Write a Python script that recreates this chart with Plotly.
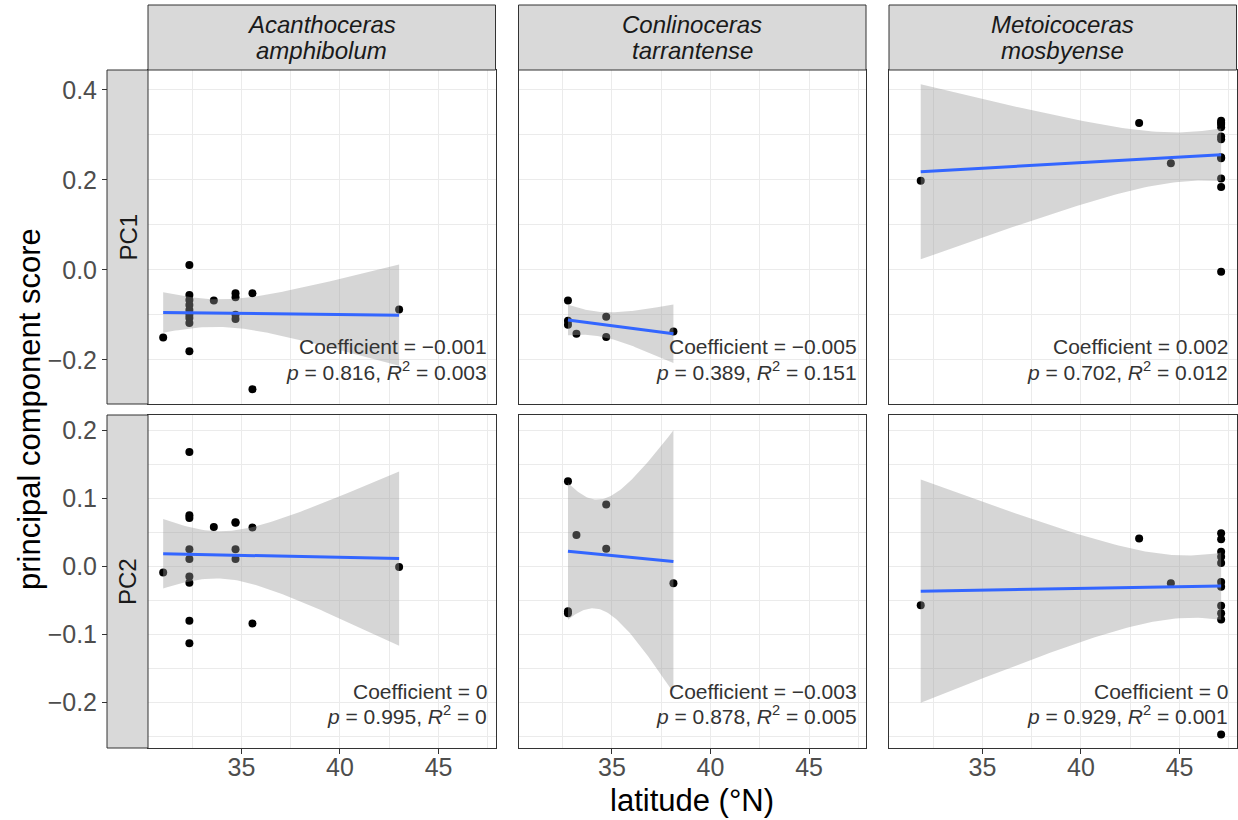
import numpy as np
import plotly.graph_objects as go

W, H = 1238, 820
FONT = "Liberation Sans, Arial, Helvetica, sans-serif"

# ---------------- data ----------------
species_line1 = ["Acanthoceras", "Conlinoceras", "Metoicoceras"]
species_line2 = ["amphibolum", "tarrantense", "mosbyense"]
components = ["PC1", "PC2"]

lat_A = [31.03, 32.36, 32.36, 32.36, 32.36, 32.36, 32.36, 32.36, 32.36, 32.36,
         33.6, 34.7, 34.7, 34.7, 34.7, 35.56, 35.56, 43.0]
pc1_A = [-0.150, 0.011, -0.056, -0.067, -0.078, -0.089, -0.100, -0.107, -0.118, -0.181,
         -0.068, -0.052, -0.061, -0.100, -0.109, -0.052, -0.265, -0.088]
pc2_A = [-0.009, 0.168, 0.075, 0.071, 0.025, 0.011, -0.015, -0.024, -0.080, -0.113,
         0.058, 0.065, 0.025, 0.011, 0.064, 0.057, -0.084, -0.001]

lat_C = [32.77, 32.77, 32.77, 33.2, 34.71, 34.71, 38.12]
pc1_C = [-0.068, -0.113, -0.122, -0.142, -0.104, -0.149, -0.137]
pc2_C = [0.125, -0.066, -0.069, 0.046, 0.091, 0.026, -0.025]

lat_M = [31.87, 42.95, 44.56, 47.11, 47.11, 47.11, 47.11, 47.11, 47.11, 47.11,
         47.11, 47.11, 47.11, 47.11]
pc1_M = [0.198, 0.326, 0.237, 0.331, 0.327, 0.324, 0.317, 0.296, 0.290, 0.250,
         0.248, 0.203, 0.184, -0.004]
pc2_M = [-0.057, 0.041, -0.025, 0.0485, 0.040, 0.0215, 0.014, 0.005, -0.023, -0.030,
         -0.058, -0.069, -0.078, -0.247]

lats = [lat_A, lat_C, lat_M]
scores = [[pc1_A, pc1_C, pc1_M], [pc2_A, pc2_C, pc2_M]]

coef_text = [["−0.001", "−0.005", "0.002"], ["0", "−0.003", "0"]]
p_text = [["0.816", "0.389", "0.702"], ["0.995", "0.878", "0.929"]]
r2_text = [["0.003", "0.151", "0.012"], ["0", "0.005", "0.001"]]

x_ticks = [35, 40, 45]
x_ticktext = ["35", "40", "45"]
x_minor = [32.5, 37.5, 42.5, 47.5]
y_ticks = [[-0.2, 0.0, 0.2, 0.4], [-0.2, -0.1, 0.0, 0.1, 0.2]]
y_ticktext = [["−0.2", "0.0", "0.2", "0.4"], ["−0.2", "−0.1", "0.0", "0.1", "0.2"]]
y_minor = [[-0.3, -0.1, 0.1, 0.3], [-0.25, -0.15, -0.05, 0.05, 0.15]]
x_range = [30.26, 47.89]
y_ranges = [[-0.298, 0.444], [-0.267, 0.2225]]

# Student t 0.975 quantiles by df
T975 = {1: 12.706, 2: 4.303, 3: 3.182, 4: 2.776, 5: 2.571, 6: 2.447, 7: 2.365, 8: 2.306,
        9: 2.262, 10: 2.228, 11: 2.201, 12: 2.179, 13: 2.160, 14: 2.145, 15: 2.131,
        16: 2.120, 17: 2.110, 18: 2.101, 19: 2.093, 20: 2.086}

# ---------------- layout geometry (pixels) ----------------
col_left = [148, 518.5, 889]
col_right = [495.5, 866, 1236.5]
row_top = [70, 415]
row_bottom = [404, 748]
strip_top = 5
rstrip_left = 107

TICK_SIZE = 25
STRIP_SIZE = 24
TITLE_SIZE = 31
STAT_SIZE = 21


def px(x):
    return x / W


def py(y):
    return 1 - y / H


def lm_band(x, y, n_grid=80):
    x = np.asarray(x, float)
    y = np.asarray(y, float)
    n = len(x)
    xb, yb = x.mean(), y.mean()
    sxx = ((x - xb) ** 2).sum()
    b1 = ((x - xb) * (y - yb)).sum() / sxx
    b0 = yb - b1 * xb
    resid = y - (b0 + b1 * x)
    s = np.sqrt((resid ** 2).sum() / (n - 2))
    xs = np.linspace(x.min(), x.max(), n_grid)
    fit = b0 + b1 * xs
    se = s * np.sqrt(1 / n + (xs - xb) ** 2 / sxx)
    t = T975[n - 2]
    return xs, fit, fit - t * se, fit + t * se


fig = go.Figure()
layout_axes = {}
annotations = []
shapes = []

for r in range(2):
    for c in range(3):
        k = r * 3 + c + 1
        xa = "x" if k == 1 else f"x{k}"
        ya = "y" if k == 1 else f"y{k}"
        x = lats[c]
        y = scores[r][c]
        fig.add_trace(go.Scatter(x=x, y=y, xaxis=xa, yaxis=ya, mode="markers",
                                 marker=dict(color="black", size=8),
                                 showlegend=False, hoverinfo="skip"))
        xs, fit, lo, hi = lm_band(x, y)
        fig.add_trace(go.Scatter(x=np.concatenate([xs, xs[::-1]]),
                                 y=np.concatenate([hi, lo[::-1]]),
                                 xaxis=xa, yaxis=ya, mode="lines", fill="toself",
                                 fillcolor="rgba(153,153,153,0.4)",
                                 line=dict(width=0), showlegend=False, hoverinfo="skip"))
        fig.add_trace(go.Scatter(x=xs, y=fit, xaxis=xa, yaxis=ya, mode="lines",
                                 line=dict(color="#3366FF", width=3),
                                 showlegend=False, hoverinfo="skip"))

        layout_axes[f"xaxis{'' if k == 1 else k}"] = dict(
            domain=[px(col_left[c]), px(col_right[c])], anchor=ya, range=x_range,
            tickmode="array", tickvals=x_ticks, ticktext=x_ticktext,
            showticklabels=(r == 1), ticks="outside" if r == 1 else "",
            ticklen=5, tickwidth=1, tickcolor="#333333", ticklabelstandoff=-8,
            tickfont=dict(family=FONT, size=TICK_SIZE, color="#4D4D4D"),
            showgrid=True, gridcolor="#EBEBEB", gridwidth=1.2,
            minor=dict(tickvals=x_minor, showgrid=True, gridcolor="#EBEBEB", gridwidth=0.7),
            zeroline=False, showline=True, mirror=True, linecolor="#333333", linewidth=1)
        layout_axes[f"yaxis{'' if k == 1 else k}"] = dict(
            domain=[py(row_bottom[r]), py(row_top[r])], anchor=xa, range=y_ranges[r],
            tickmode="array", tickvals=y_ticks[r], showticklabels=False, ticks="",
            showgrid=True, gridcolor="#EBEBEB", gridwidth=1.2,
            minor=dict(tickvals=y_minor[r], showgrid=True, gridcolor="#EBEBEB", gridwidth=0.7),
            zeroline=False, showline=True, mirror=True, linecolor="#333333", linewidth=1)

        xr = px(col_right[c] - 7)
        annotations.append(dict(text=f"Coefficient = {coef_text[r][c]}", xref="paper", yref="paper",
                                x=xr, y=py(row_bottom[r] - 57), xanchor="right", yanchor="middle",
                                showarrow=False, font=dict(family=FONT, size=STAT_SIZE, color="#333333")))
        annotations.append(dict(text=f"<i>p</i> = {p_text[r][c]}, <i>R</i><sup>2</sup> = {r2_text[r][c]}",
                                xref="paper", yref="paper",
                                x=xr, y=py(row_bottom[r] - 33), xanchor="right", yanchor="middle",
                                showarrow=False, font=dict(family=FONT, size=STAT_SIZE, color="#333333")))

# free y axes carrying the tick labels outside the row strips
for r in range(2):
    k = 7 + r
    base = "y" if r == 0 else "y4"
    bx = "x" if r == 0 else "x4"
    fig.add_trace(go.Scatter(x=lats[0], y=scores[r][0], xaxis=bx, yaxis=f"y{k}", mode="markers",
                             marker=dict(opacity=0), showlegend=False, hoverinfo="skip"))
    layout_axes[f"yaxis{k}"] = dict(
        overlaying=base, anchor="free", position=px(rstrip_left), side="left",
        range=y_ranges[r], tickmode="array", tickvals=y_ticks[r], ticktext=y_ticktext[r],
        ticks="outside", ticklen=5, tickwidth=1, tickcolor="#333333",
        tickfont=dict(family=FONT, size=TICK_SIZE, color="#4D4D4D"),
        showgrid=False, zeroline=False, showline=False)

# strips
for c in range(3):
    shapes.append(dict(type="rect", xref="paper", yref="paper",
                       x0=px(col_left[c]), x1=px(col_right[c]), y0=py(row_top[0]), y1=py(strip_top),
                       fillcolor="#D9D9D9", line=dict(color="#333333", width=1), layer="above"))
    cx = px((col_left[c] + col_right[c]) / 2)
    annotations.append(dict(text=f"<i>{species_line1[c]}</i>", xref="paper", yref="paper", x=cx,
                            y=py(24), xanchor="center", yanchor="middle", showarrow=False,
                            font=dict(family=FONT, size=STRIP_SIZE, color="#1A1A1A")))
    annotations.append(dict(text=f"<i>{species_line2[c]}</i>", xref="paper", yref="paper", x=cx,
                            y=py(50), xanchor="center", yanchor="middle", showarrow=False,
                            font=dict(family=FONT, size=STRIP_SIZE, color="#1A1A1A")))
for r in range(2):
    shapes.append(dict(type="rect", xref="paper", yref="paper",
                       x0=px(rstrip_left), x1=px(col_left[0]), y0=py(row_bottom[r]), y1=py(row_top[r]),
                       fillcolor="#D9D9D9", line=dict(color="#333333", width=1), layer="above"))
    annotations.append(dict(text=components[r], xref="paper", yref="paper",
                            x=px((rstrip_left + col_left[0]) / 2), y=py((row_top[r] + row_bottom[r]) / 2),
                            xanchor="center", yanchor="middle", textangle=-90, showarrow=False,
                            font=dict(family=FONT, size=STRIP_SIZE, color="#1A1A1A")))

# axis titles
annotations.append(dict(text="latitude (°N)", xref="paper", yref="paper",
                        x=px((col_left[0] + col_right[2]) / 2), y=py(800),
                        xanchor="center", yanchor="middle", showarrow=False,
                        font=dict(family=FONT, size=TITLE_SIZE, color="black")))
annotations.append(dict(text="principal component score", xref="paper", yref="paper",
                        x=px(29), y=py((row_top[0] + row_bottom[1]) / 2),
                        xanchor="center", yanchor="middle", textangle=-90, showarrow=False,
                        font=dict(family=FONT, size=TITLE_SIZE, color="black")))

fig.update_layout(width=W, height=H, margin=dict(l=0, r=0, t=0, b=0),
                  paper_bgcolor="white", plot_bgcolor="white", showlegend=False,
                  annotations=annotations, shapes=shapes, **layout_axes)

fig.write_html("out.html", config={"displayModeBar": False},
               post_script="document.body.style.margin='0';document.body.style.overflow='hidden';")
